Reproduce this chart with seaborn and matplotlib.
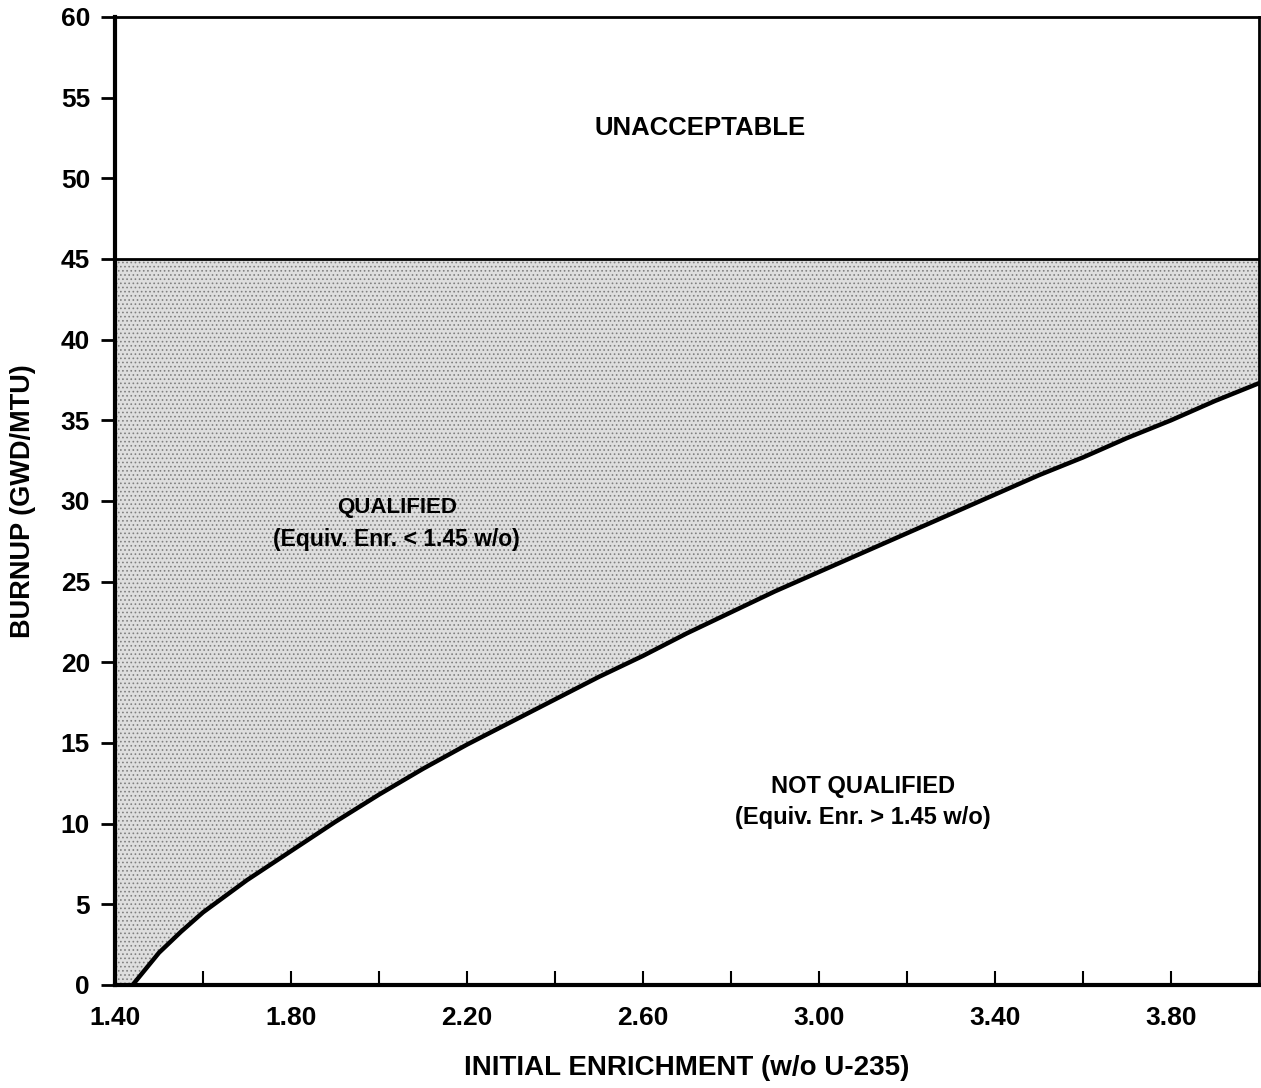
import numpy as np
import pandas as pd
import seaborn as sns
import matplotlib.pyplot as plt
from matplotlib.ticker import MultipleLocator, FixedLocator

# qualification curve
enrichment = [1.44, 1.47, 1.50, 1.55, 1.60, 1.70, 1.80, 1.90, 2.00, 2.10, 2.20, 2.30, 2.40,
              2.50, 2.60, 2.70, 2.80, 2.90, 3.00, 3.10, 3.20, 3.30, 3.40, 3.50,
              3.60, 3.70, 3.80, 3.90, 4.00]
burnup = [0.0, 1.0, 2.0, 3.3, 4.5, 6.5, 8.3, 10.1, 11.8, 13.4, 14.9, 16.3, 17.7,
          19.1, 20.4, 21.8, 23.1, 24.4, 25.6, 26.8, 28.0, 29.2, 30.4, 31.6,
          32.7, 33.9, 35.0, 36.2, 37.3]
burnup_limit = 45
x_range = [1.40, 4.00]
y_range = [0, 60]
x_ticklabels = ['1.40', '1.80', '2.20', '2.60', '3.00', '3.40', '3.80']

curve = pd.DataFrame({'enrichment': enrichment, 'burnup': burnup})
limit = pd.DataFrame({'enrichment': x_range, 'burnup': [burnup_limit, burnup_limit]})

sns.set_theme(style='white')
plt.rcParams['font.family'] = ['Liberation Sans', 'DejaVu Sans']
plt.rcParams['font.weight'] = 'bold'
plt.rcParams['hatch.linewidth'] = 0.7
for key in ['text.color', 'axes.labelcolor', 'xtick.color', 'ytick.color']:
    plt.rcParams[key] = 'black'

fig = plt.figure(figsize=(12.61, 10.88), dpi=100)
ax = fig.add_axes([0.0912, 0.0947, 0.9072, 0.8897])

# shaded "qualified" zone between the curve and the burnup limit
fill_x = [x_range[0]] + enrichment
fill_low = [0.0] + burnup
ax.fill_between(fill_x, fill_low, burnup_limit, facecolor='#dedede',
                hatch='....', edgecolor='#808080', linewidth=0, zorder=1)

sns.lineplot(data=curve, x='enrichment', y='burnup', color='black', lw=3.2, ax=ax, zorder=3)
sns.lineplot(data=limit, x='enrichment', y='burnup', color='black', lw=2.0, ax=ax, zorder=3)

ax.set_xlim(x_range)
ax.set_ylim(y_range)

ax.xaxis.set_major_locator(FixedLocator([1.40, 1.80, 2.20, 2.60, 3.00, 3.40, 3.80]))
ax.xaxis.set_minor_locator(MultipleLocator(0.2))
ax.set_xticklabels(x_ticklabels)
ax.yaxis.set_major_locator(MultipleLocator(5))

ax.tick_params(axis='x', which='both', direction='in', length=10, width=1.5,
               labelsize=19, pad=15, bottom=True)
ax.tick_params(axis='y', direction='out', length=10, width=2, labelsize=19, pad=8,
               left=True)
for lab in ax.get_xticklabels() + ax.get_yticklabels():
    lab.set_fontweight('bold')

for side in ['left', 'bottom']:
    ax.spines[side].set_linewidth(3)
for side in ['top', 'right']:
    ax.spines[side].set_linewidth(2)
for side in ax.spines:
    ax.spines[side].set_color('black')

ax.set_xlabel('INITIAL ENRICHMENT (w/o U-235)', fontsize=20, fontweight='bold', labelpad=18)
ax.set_ylabel('BURNUP (GWD/MTU)', fontsize=19.5, fontweight='bold', labelpad=18)

ax.text(2.73, 53.1, 'UNACCEPTABLE', fontsize=18.5, fontweight='bold', ha='center', va='center')
ax.text(2.04, 29.6, 'QUALIFIED', fontsize=16, fontweight='bold', ha='center', va='center')
ax.text(2.04, 27.6, '(Equiv. Enr. < 1.45 w/o)', fontsize=16.5, fontweight='bold', ha='center', va='center')
ax.text(3.10, 12.3, 'NOT QUALIFIED', fontsize=17, fontweight='bold', ha='center', va='center')
ax.text(3.10, 10.4, '(Equiv. Enr. > 1.45 w/o)', fontsize=17, fontweight='bold', ha='center', va='center')

fig.savefig('out.png', dpi=100, facecolor='white')
